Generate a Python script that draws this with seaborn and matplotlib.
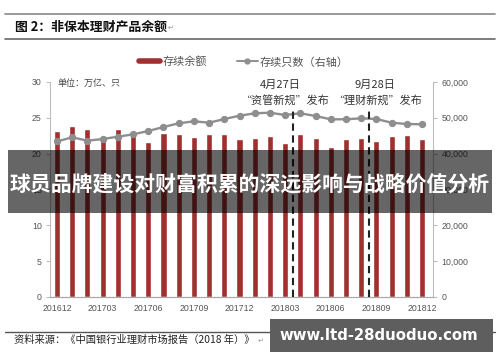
import numpy as np
import pandas as pd
import matplotlib
matplotlib.use("Agg")
import matplotlib.pyplot as plt
import matplotlib.ticker as mticker
from matplotlib.lines import Line2D
from matplotlib.patches import Rectangle
import seaborn as sns

# ---------------- data ----------------
months = ["201612", "201701", "201702", "201703", "201704", "201705", "201706",
          "201707", "201708", "201709", "201710", "201711", "201712",
          "201801", "201802", "201803", "201804", "201805", "201806",
          "201807", "201808", "201809", "201810", "201811", "201812"]
balance = [23.1, 23.9, 23.4, 22.5, 23.5, 22.8, 21.6, 22.9, 22.8, 22.3, 22.8, 22.7, 22.1,
           22.2, 22.5, 21.5, 22.7, 22.2, 20.9, 22.0, 22.2, 21.7, 22.4, 22.6, 22.0]
count = [43400, 44560, 43610, 44080, 44720, 45390, 46310, 47430, 48460, 49020, 48630, 49660, 50580,
         51250, 51420, 50780, 51250, 50500, 49580, 49580, 49860, 49660, 48630, 48270, 48180]
tick_months = months[::3]
event_months = ["201804", "201809"]
event_dates = ["4月27日", "9月28日"]
event_texts = ["“资管新规”发布", "“理财新规”发布"]
left_ticks = [0, 5, 10, 15, 20, 25, 30]
right_ticks = [0, 10000, 20000, 30000, 40000, 50000, 60000]

title = "图 2：非保本理财产品余额"
source = "资料来源：《中国银行业理财市场报告（2018 年）》"
overlay = "球员品牌建设对财富积累的深远影响与战略价值分析"
watermark = "www.ltd-28duoduo.com"
unit_text = "单位：万亿、只"
leg_labels = ["存续余额", "存续只数（右轴）"]

df = pd.DataFrame({"month": months, "balance": balance, "count": count})
df["pos"] = np.arange(len(df))

# ---------------- style ----------------
sns.set_style("white")
plt.rcParams["font.family"] = ["Liberation Sans", "Noto Sans CJK SC", "DejaVu Sans"]
CJK = ["Noto Sans CJK SC", "DejaVu Sans"]

bar_color = "#a0302f"
line_color = "#8e8e8e"
tick_color = "#555555"
spine_color = "#bdbdbd"

fig = plt.figure(figsize=(5.0, 3.62), dpi=100)
ax = fig.add_axes([0.100, 0.1796, 0.766, 0.594])

sns.barplot(data=df, x="month", y="balance", color=bar_color, width=0.4,
            saturation=1, ax=ax, order=months)
ax.set_xlim(-0.46, len(months) - 1 + 0.72)
ax.set_ylim(0, 30)
ax.set_yticks(left_ticks)
ax.set_xlabel("")
ax.set_ylabel("")

ax2 = ax.twinx()
sns.lineplot(data=df, x="pos", y="count", color=line_color, lw=1.7, marker="o",
             markersize=4.5, markeredgecolor=line_color, ax=ax2)
ax2.set_ylim(0, 60000)
ax2.set_yticks(right_ticks)
ax2.yaxis.set_major_formatter(mticker.FuncFormatter(lambda v, p: f"{int(v):,}"))
ax2.set_xlabel("")
ax2.set_ylabel("")
ax2.set_xlim(ax.get_xlim())

# x ticks
ax.set_xticks([months.index(m) for m in tick_months])
ax.set_xticklabels(tick_months)
ax.set_xticks([months.index(m) - 0.5 for m in tick_months[1:]], minor=True)
ax.tick_params(axis="x", which="major", length=0, labelsize=6.3, colors=tick_color, pad=5)
ax.tick_params(axis="x", which="minor", length=3, color=spine_color, direction="out")
ax.tick_params(axis="y", length=3, color=spine_color, labelsize=6.3, colors=tick_color, pad=3,
               left=True)
ax2.tick_params(axis="y", length=3, color=spine_color, labelsize=6.3, colors=tick_color, pad=3,
                right=True)

for a in (ax, ax2):
    a.spines["top"].set_visible(False)
    a.spines["left"].set_color(spine_color)
    a.spines["right"].set_color(spine_color)
    a.spines["bottom"].set_color("#a8a8a8")
    a.spines["left"].set_linewidth(0.8)
    a.spines["right"].set_linewidth(0.8)
    a.spines["bottom"].set_linewidth(0.8)
ax.spines["right"].set_visible(False)
ax2.spines["left"].set_visible(False)
ax.set_zorder(0)
ax2.set_zorder(1)
ax2.patch.set_visible(False)

# event lines and their labels (label offsets in pixels from the line)
date_dx = [-13, 6]
text_dx = [-8, 9]
for em, d, t, ddx, tdx in zip(event_months, event_dates, event_texts, date_dx, text_dx):
    xp = months.index(em) - 0.5
    ax2.axvline(xp, ymin=0, ymax=0.87, color="#222222", lw=1.5, ls=(0, (3.5, 2.2)), zorder=5)
    xd = ax.transData.transform((xp, 0))[0]
    fig.text((xd + ddx) / 500, 1 - 85 / 362, d, ha="center", va="center", fontsize=8,
             color="#333333", family=CJK)
    fig.text((xd + tdx) / 500, 1 - 100 / 362, t, ha="center", va="center", fontsize=8,
             color="#333333", family=CJK)

# unit text
fig.text(58 / 500, 1 - 83 / 362, unit_text, ha="left", va="center", fontsize=6.5,
         color="#444444", family=CJK)

# legend
handles = [Line2D([], [], color=bar_color, lw=4),
           Line2D([], [], color=line_color, lw=1.4, marker="o", markersize=3.5)]
fig.legend(handles, leg_labels, loc="center", bbox_to_anchor=(244 / 500, 1 - 62 / 362),
           ncol=2, frameon=False, prop={"family": CJK, "size": 8}, labelcolor="#555555",
           handlelength=1.9, handletextpad=0.2, columnspacing=2.7)

# title block
fig.add_artist(Line2D([5 / 500, 495 / 500], [1 - 14 / 362] * 2, color="#888888", lw=1.2))
fig.add_artist(Line2D([5 / 500, 495 / 500], [1 - 39 / 362] * 2, color="#666666", lw=1.2))
fig.text(15 / 500, 1 - 27 / 362, title, ha="left", va="center", fontsize=9.3,
         fontweight="bold", color="#111111", family=CJK)
fig.text(168 / 500, 1 - 28 / 362, "↵", ha="left", va="center", fontsize=5, color="#999999",
         family=["DejaVu Sans"])

# source block
fig.add_artist(Line2D([5 / 500, 495 / 500], [1 - 332 / 362] * 2, color="#555555", lw=1.0))
fig.text(14 / 500, 1 - 340 / 362, source, ha="left", va="center", fontsize=7.4,
         color="#222222", family=CJK)
fig.text(258 / 500, 1 - 341 / 362, "↵", ha="left", va="center", fontsize=5, color="#999999",
         family=["DejaVu Sans"])

# overlay banner
fig.patches.append(Rectangle((8 / 500, 1 - 213 / 362), 484 / 500, 63 / 362,
                             transform=fig.transFigure, facecolor="black", alpha=0.6,
                             edgecolor="none", zorder=10))
fig.text(0.5, 1 - 184 / 362, overlay, ha="center", va="center", fontsize=15.0,
         fontweight="bold", color="white", family=CJK, zorder=11)

# watermark box
fig.patches.append(Rectangle((270 / 500, 1 - 352 / 362), 223 / 500, 33 / 362,
                             transform=fig.transFigure, facecolor="#5e5e5e",
                             edgecolor="none", zorder=10))
fig.text(379 / 500, 1 - 335 / 362, watermark, ha="center", va="center", fontsize=10.7,
         fontweight="bold", color="white", family=["DejaVu Sans"], zorder=11)

fig.savefig("out.png", dpi=100)
